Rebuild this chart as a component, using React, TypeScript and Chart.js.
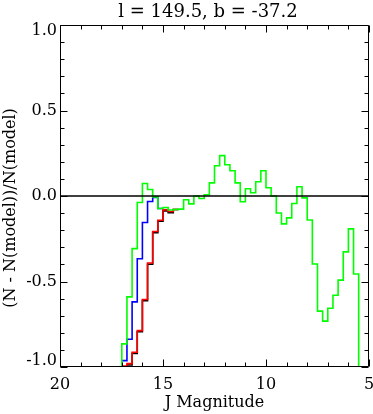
import React, { useEffect, useRef } from "react";
import { Chart, registerables } from "chart.js";
Chart.register(...registerables);

const titleText = "l = 149.5, b = -37.2";
const xTitle = "J Magnitude";
const yTitle = "(N - N(model))/N(model)";

const xMin = 5;
const xMax = 20;
const yMin = -1;
const yMax = 1;
const xMajorTicks = [20, 15, 10, 5];
const xTickLabels = ["20", "15", "10", "5"];
const xMinorTicks = [19, 18, 17, 16, 14, 13, 12, 11, 9, 8, 7, 6];
const yMajorTicks = [-1, -0.5, 0, 0.5, 1];
const yTickLabels = ["-1.0", "-0.5", "0.0", "0.5", "1.0"];
const yMinorTicks = [-0.9, -0.8, -0.7, -0.6, -0.4, -0.3, -0.2, -0.1, 0.1, 0.2, 0.3, 0.4, 0.6, 0.7, 0.8, 0.9];

// bin starts (bright-ward edge follows next start); first green bin is the empty faint range
const greenBins = [20, 17.0, 16.75, 16.5, 16.25, 16.0, 15.75, 15.5, 15.25, 15.0, 14.75, 14.5, 14.25, 14.0, 13.75, 13.5, 13.25, 13.0, 12.75, 12.5, 12.25, 12.0, 11.75, 11.5, 11.25, 11.0, 10.75, 10.5, 10.25, 10.0, 9.75, 9.5, 9.25, 9.0, 8.75, 8.5, 8.25, 8.0, 7.75, 7.5, 7.25, 7.0, 6.75, 6.5, 6.25, 6.0, 5.75, 5.5];
const greenValues = [-1, -0.865, -0.59, -0.308, -0.038, 0.073, 0.038, -0.005, -0.073, -0.067, -0.082, -0.079, -0.077, -0.022, -0.046, 0.0, -0.015, 0.007, 0.077, 0.177, 0.236, 0.183, 0.148, 0.077, -0.034, 0.042, 0.019, 0.083, 0.148, 0.048, 0.0, -0.099, -0.163, -0.128, -0.044, 0.054, -0.011, -0.14, -0.398, -0.673, -0.732, -0.656, -0.58, -0.492, -0.327, -0.192, -0.456, -1];
const greenEnd = 5;

const blueBins = [17.0, 16.75, 16.5, 16.25, 16.0, 15.75, 15.5, 15.25];
const blueValues = [-0.963, -0.838, -0.619, -0.367, -0.155, -0.032, -0.009, -0.073];
const blueEnd = 15.0;

const redBins = [17.0, 16.75, 16.5, 16.25, 16.0, 15.75, 15.5, 15.25, 15.0, 14.75, 14.5];
const redValues = [-0.995, -0.98, -0.914, -0.787, -0.605, -0.392, -0.208, -0.142, -0.081, -0.091, -0.079];
const redEnd = 14.25;

const blackValues = [-1.0, -0.988, -0.921, -0.794, -0.612, -0.399, -0.214, -0.148, -0.087, -0.097, -0.079];

const zeroLine = [0, 0];

function hist(starts: number[], values: number[], end: number) {
  const pts = starts.map((s, i) => ({ x: s, y: values[i] }));
  pts.push({ x: end, y: values[values.length - 1] });
  return pts;
}

const FONT = '"DejaVu Serif"';

const framePlugin = {
  id: "frame",
  afterDraw(chart: any) {
    const { ctx, chartArea, scales } = chart;
    const { left, right, top, bottom } = chartArea;
    const xs = scales.x;
    const ys = scales.y;
    ctx.save();
    ctx.strokeStyle = "#000";
    ctx.lineWidth = 1;
    ctx.beginPath();
    const L = Math.round(left) + 0.5, R = Math.round(right) - 0.5, T = Math.round(top) + 0.5, B = Math.round(bottom) - 0.5;
    ctx.rect(L, T, R - L, B - T);
    const xt = (v: number, len: number) => {
      const p = Math.round(xs.getPixelForValue(v)) + 0.5;
      ctx.moveTo(p, B); ctx.lineTo(p, B - len);
      ctx.moveTo(p, T); ctx.lineTo(p, T + len);
    };
    const yt = (v: number, len: number) => {
      const p = Math.round(ys.getPixelForValue(v)) + 0.5;
      ctx.moveTo(L, p); ctx.lineTo(L + len, p);
      ctx.moveTo(R, p); ctx.lineTo(R - len, p);
    };
    xMajorTicks.forEach((v) => xt(v, 7));
    xMinorTicks.forEach((v) => xt(v, 4));
    yMajorTicks.forEach((v) => yt(v, 7));
    yMinorTicks.forEach((v) => yt(v, 4));
    ctx.stroke();

    ctx.fillStyle = "#000";
    ctx.font = `16px ${FONT}`;
    ctx.textAlign = "center";
    ctx.textBaseline = "alphabetic";
    xMajorTicks.forEach((v, i) => {
      ctx.fillText(xTickLabels[i], xs.getPixelForValue(v), bottom + 22);
    });
    ctx.textAlign = "right";
    ctx.textBaseline = "middle";
    yMajorTicks.forEach((v, i) => {
      let p = ys.getPixelForValue(v);
      p = Math.min(Math.max(p, top + 6), bottom - 6);
      ctx.fillText(yTickLabels[i], left - 3, p);
    });

    ctx.textAlign = "center";
    ctx.textBaseline = "alphabetic";
    ctx.fillText(xTitle, (left + right) / 2, bottom + 40);

    ctx.font = `18px ${FONT}`;
    ctx.fillText(titleText, 208, 17);

    ctx.font = `16px ${FONT}`;
    ctx.translate(15, 208);
    ctx.rotate(-Math.PI / 2);
    ctx.fillText(yTitle, 0, 0);
    ctx.restore();
  },
};

export default function App() {
  const ref = useRef<HTMLCanvasElement>(null);
  useEffect(() => {
    document.body.style.margin = "0";
    const common = { pointRadius: 0, borderWidth: 1.6, fill: false, stepped: true as const, tension: 0 };
    const chart = new Chart(ref.current!, {
      type: "line",
      data: {
        datasets: [
          { ...common, label: "zero", data: [{ x: xMax, y: zeroLine[0] }, { x: xMin, y: zeroLine[1] }], borderColor: "#000", borderWidth: 1.6, stepped: false },
          { ...common, label: "green", data: hist(greenBins, greenValues, greenEnd), borderColor: "#00ff00" },
          { ...common, label: "blue", data: hist(blueBins, blueValues, blueEnd), borderColor: "#0000ff" },
          { ...common, label: "red", data: hist(redBins, redValues, redEnd), borderColor: "#ff0000" },
          { ...common, label: "black", data: hist(redBins, blackValues, redEnd), borderColor: "#000" },
        ],
      },
      options: {
        animation: false,
        responsive: false,
        parsing: false,
        layout: { padding: { left: 60, right: 4, top: 25, bottom: 47 } },
        plugins: { legend: { display: false }, tooltip: { enabled: false }, title: { display: false } },
        scales: {
          x: { type: "linear", min: xMin, max: xMax, reverse: true, display: false },
          y: { type: "linear", min: yMin, max: yMax, display: false },
        },
      },
      plugins: [framePlugin],
    });
    return () => chart.destroy();
  }, []);
  return <canvas ref={ref} width={373} height={414} style={{ display: "block", width: 373, height: 414 }} />;
}
